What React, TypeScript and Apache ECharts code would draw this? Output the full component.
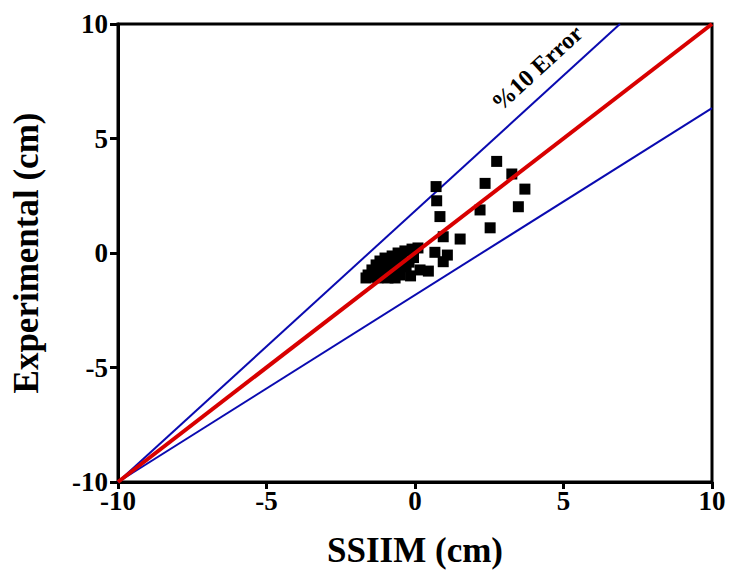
import React, { useEffect, useRef } from "react";
import * as echarts from "echarts";

const xTicks = [-10, -5, 0, 5, 10];
const yTicks = [-10, -5, 0, 5, 10];

const measured: [number, number][] = [
  [2.75, 4.0], [3.26, 3.45], [2.36, 3.04], [3.7, 2.79], [3.48, 2.02], [2.19, 1.88], [2.53, 1.1],
  [0.71, 2.9], [0.73, 2.28], [0.84, 1.59], [0.95, 0.71], [1.52, 0.61], [0.67, 0.03], [1.09, -0.09],
  [0.95, -0.38], [0.45, -0.79], [-0.05, 0.13], [-0.05, -0.2], [-0.15, -1.0], [0.17, -0.74],
  [-1.58, -0.96], [-1.65, -1.09], [-1.45, -0.74], [-1.31, -0.52], [-1.18, -0.35], [-1.01, -0.22],
  [-0.77, -0.13], [-0.57, 0.0], [-0.34, 0.09], [-0.1, 0.17], [0.1, 0.22], [-1.38, -0.83],
  [-1.14, -0.66], [-0.91, -0.48], [-0.67, -0.35], [-0.44, -0.22], [-1.25, -1.09], [-0.91, -1.09],
  [-0.67, -1.09], [-0.51, -0.96], [-0.77, -0.83], [-1.01, -0.96], [-0.3, -0.6], [-0.2, -0.4],
  [-1.5, -1.05], [-1.2, -0.9], [-0.85, -0.7], [-0.6, -0.55],
];

const perfectLine: [number, number][] = [[-10, -10], [10, 10]];
const upperErrorLine: [number, number][] = [[-10, -10], [6.9, 10]];
const lowerErrorLine: [number, number][] = [[-10, -10], [10, 6.33]];

const FONT = "'Liberation Serif', 'Times New Roman', serif";

export default function App() {
  const ref = useRef<HTMLDivElement>(null);
  useEffect(() => {
    if (!ref.current) return;
    const chart = echarts.init(ref.current, undefined, { renderer: "svg" });
    chart.setOption({
      animation: false,
      backgroundColor: "#fff",
      grid: {
        left: 118, right: 18, top: 24, bottom: 89,
        outerBoundsMode: "none", containLabel: false,
        show: true, borderColor: "#000", borderWidth: 3,
      },
      xAxis: {
        type: "value", min: -10, max: 10, interval: 5,
        name: "SSIIM (cm)", nameLocation: "middle", nameGap: 51,
        nameTextStyle: { fontFamily: FONT, fontWeight: "bold", fontSize: 35, color: "#000" },
        axisLine: { show: true, onZero: false, lineStyle: { color: "#000", width: 3 } },
        axisTick: { show: true, length: 7, lineStyle: { color: "#000", width: 3 } },
        axisLabel: {
          fontFamily: FONT, fontWeight: "bold", fontSize: 27, color: "#000", margin: 5,
          formatter: (v: number) => (xTicks.includes(v) ? String(v) : ""),
        },
        splitLine: { show: false },
      },
      yAxis: {
        type: "value", min: -10, max: 10, interval: 5,
        name: "Experimental (cm)", nameLocation: "middle", nameGap: 74, nameRotate: 90,
        nameTextStyle: { fontFamily: FONT, fontWeight: "bold", fontSize: 35, color: "#000" },
        axisLine: { show: true, onZero: false, lineStyle: { color: "#000", width: 3 } },
        axisTick: { show: true, length: 8, lineStyle: { color: "#000", width: 3 } },
        axisLabel: {
          fontFamily: FONT, fontWeight: "bold", fontSize: 27, color: "#000", margin: 10,
          formatter: (v: number) => (yTicks.includes(v) ? String(v) : ""),
        },
        splitLine: { show: false },
      },
      series: [
        {
          type: "line", data: upperErrorLine, symbol: "none", silent: true,
          lineStyle: { color: "#0a0ab0", width: 2 }, z: 2,
        },
        {
          type: "line", data: lowerErrorLine, symbol: "none", silent: true,
          lineStyle: { color: "#0a0ab0", width: 2 }, z: 2,
        },
        {
          type: "scatter", data: measured, symbol: "rect", symbolSize: 11,
          itemStyle: { color: "#000", opacity: 1 }, z: 3,
        },
        {
          type: "line", data: perfectLine, symbol: "none", silent: true,
          lineStyle: { color: "#d80000", width: 4 }, z: 4,
        },
      ],
      graphic: [
        {
          type: "text", x: 537, y: 68, rotation: (42.5 * Math.PI) / 180,
          style: {
            text: "%10 Error", fontFamily: FONT, fontWeight: "bold", fontSize: 24,
            fill: "#000", align: "center", verticalAlign: "middle",
          },
        },
      ],
    });
    return () => chart.dispose();
  }, []);
  return (
    <div
      ref={ref}
      style={{ position: "absolute", left: 0, top: 0, width: 730, height: 571 }}
    />
  );
}
